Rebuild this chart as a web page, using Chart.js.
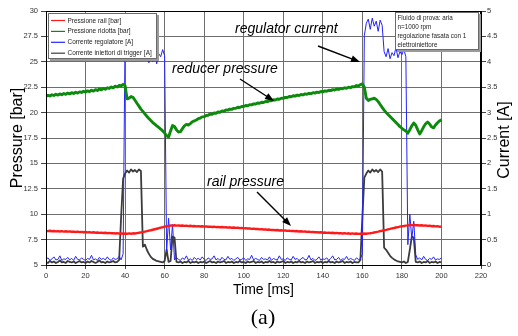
<!DOCTYPE html>
<html>
<head>
<meta charset="utf-8">
<script src="https://cdn.jsdelivr.net/npm/chart.js@4.4.0/dist/chart.umd.min.js"></script>
<style>
  html, body { margin: 0; padding: 0; background: #fff; }
  #wrap { width: 518px; height: 336px; }
</style>
</head>
<body>
<div id="wrap"><canvas id="grafico" width="518" height="336"></canvas></div>
<script>
// tempo [ms], campionato ogni 1 ms
var tempoMs = [
    0, 1, 2, 3, 4, 5, 6, 7, 8, 9, 10, 11, 12, 13, 14, 15, 16, 17, 18, 19,
    20, 21, 22, 23, 24, 25, 26, 27, 28, 29, 30, 31, 32, 33, 34, 35, 36, 37, 38, 39,
    40, 41, 42, 43, 44, 45, 46, 47, 48, 49, 50, 51, 52, 53, 54, 55, 56, 57, 58, 59,
    60, 61, 62, 63, 64, 65, 66, 67, 68, 69, 70, 71, 72, 73, 74, 75, 76, 77, 78, 79,
    80, 81, 82, 83, 84, 85, 86, 87, 88, 89, 90, 91, 92, 93, 94, 95, 96, 97, 98, 99,
    100, 101, 102, 103, 104, 105, 106, 107, 108, 109, 110, 111, 112, 113, 114, 115, 116, 117, 118, 119,
    120, 121, 122, 123, 124, 125, 126, 127, 128, 129, 130, 131, 132, 133, 134, 135, 136, 137, 138, 139,
    140, 141, 142, 143, 144, 145, 146, 147, 148, 149, 150, 151, 152, 153, 154, 155, 156, 157, 158, 159,
    160, 161, 162, 163, 164, 165, 166, 167, 168, 169, 170, 171, 172, 173, 174, 175, 176, 177, 178, 179,
    180, 181, 182, 183, 184, 185, 186, 187, 188, 189, 190, 191, 192, 193, 194, 195, 196, 197, 198, 199, 200
];

// Pressione rail [bar]
var pressioneRail = [
    8.36, 8.33, 8.37, 8.32, 8.35, 8.31, 8.34, 8.30, 8.33, 8.29, 8.32, 8.28, 8.31, 8.27, 8.29, 8.25, 8.28, 8.24, 8.26, 8.22,
    8.25, 8.21, 8.23, 8.19, 8.22, 8.18, 8.20, 8.16, 8.19, 8.15, 8.17, 8.13, 8.16, 8.12, 8.14, 8.10, 8.13, 8.09, 8.12, 8.08,
    8.10, 8.07, 8.11, 8.08, 8.12, 8.10, 8.14, 8.17, 8.21, 8.24, 8.29, 8.33, 8.38, 8.42, 8.47, 8.52, 8.57, 8.62, 8.68, 8.72,
    8.77, 8.82, 8.85, 8.89, 8.87, 8.91, 8.88, 8.90, 8.86, 8.89, 8.85, 8.87, 8.83, 8.86, 8.82, 8.84, 8.80, 8.83, 8.79, 8.81,
    8.77, 8.80, 8.76, 8.78, 8.74, 8.77, 8.73, 8.75, 8.71, 8.74, 8.70, 8.72, 8.68, 8.71, 8.67, 8.69, 8.65, 8.67, 8.63, 8.65,
    8.61, 8.63, 8.59, 8.61, 8.56, 8.58, 8.54, 8.56, 8.51, 8.53, 8.49, 8.51, 8.47, 8.49, 8.44, 8.46, 8.42, 8.44, 8.40, 8.42,
    8.38, 8.40, 8.36, 8.38, 8.34, 8.36, 8.32, 8.34, 8.30, 8.32, 8.28, 8.30, 8.26, 8.28, 8.24, 8.26, 8.22, 8.24, 8.20, 8.22,
    8.18, 8.20, 8.16, 8.19, 8.15, 8.17, 8.13, 8.16, 8.12, 8.14, 8.10, 8.13, 8.09, 8.12, 8.08, 8.11, 8.07, 8.10, 8.06, 8.09,
    8.07, 8.10, 8.08, 8.11, 8.13, 8.16, 8.20, 8.24, 8.28, 8.33, 8.37, 8.42, 8.46, 8.51, 8.55, 8.60, 8.64, 8.69, 8.73, 8.77,
    8.81, 8.84, 8.88, 8.90, 8.93, 8.92, 8.95, 8.91, 8.93, 8.89, 8.91, 8.87, 8.89, 8.85, 8.86, 8.82, 8.84, 8.80, 8.81, 8.77, 8.78
];

// Pressione ridotta [bar]
var pressioneRidotta = [
    21.62, 21.70, 21.64, 21.76, 21.68, 21.80, 21.72, 21.84, 21.76, 21.88, 21.80, 21.92, 21.84, 21.96, 21.88, 22.00, 21.92, 22.04, 21.98, 22.10,
    22.02, 22.14, 22.06, 22.20, 22.12, 22.26, 22.18, 22.32, 22.24, 22.38, 22.30, 22.44, 22.38, 22.52, 22.44, 22.60, 22.52, 22.68, 22.62, 22.78,
    22.65, 21.35, 21.42, 21.58, 21.50, 21.22, 20.92, 20.64, 20.34, 20.12, 19.88, 19.64, 19.42, 19.22, 19.02, 18.86, 18.70, 18.54, 18.38, 18.20,
    17.98, 17.72, 17.60, 18.20, 18.72, 18.62, 18.30, 18.08, 18.12, 18.42, 18.70, 18.84, 18.78, 18.92, 19.10, 19.18, 19.28, 19.40, 19.46, 19.58,
    19.60, 19.72, 19.74, 19.86, 19.84, 19.96, 19.94, 20.06, 20.04, 20.16, 20.14, 20.26, 20.24, 20.34, 20.32, 20.42, 20.42, 20.52, 20.50, 20.60,
    20.60, 20.70, 20.68, 20.78, 20.76, 20.86, 20.84, 20.94, 20.92, 21.02, 21.00, 21.10, 21.08, 21.18, 21.16, 21.26, 21.24, 21.34, 21.32, 21.42,
    21.40, 21.50, 21.48, 21.58, 21.56, 21.66, 21.62, 21.72, 21.68, 21.78, 21.74, 21.84, 21.80, 21.90, 21.86, 21.96, 21.92, 22.02, 21.98, 22.08,
    22.04, 22.14, 22.10, 22.20, 22.16, 22.26, 22.22, 22.32, 22.28, 22.38, 22.34, 22.44, 22.40, 22.50, 22.46, 22.56, 22.54, 22.66, 22.62, 22.76,
    22.82, 22.50, 21.42, 21.20, 21.30, 21.36, 21.42, 21.30, 21.08, 20.80, 20.52, 20.24, 20.02, 19.82, 19.62, 19.42, 19.22, 19.02, 18.82, 18.62,
    18.46, 18.30, 18.18, 17.98, 18.32, 18.70, 18.98, 18.76, 18.30, 17.90, 18.22, 18.60, 18.90, 19.08, 18.88, 18.60, 18.50, 18.78, 19.00, 19.18, 19.30
];

// Corrente regolatore [A]
var correnteRegolatore = [
    0.11, 0.14, 0.09, 0.12, 0.16, 0.10, 0.11, 0.18, 0.09, 0.12, 0.11, 0.15, 0.10, 0.13, 0.09, 0.17, 0.11, 0.10, 0.14, 0.11,
    0.09, 0.13, 0.11, 0.19, 0.10, 0.12, 0.09, 0.15, 0.11, 0.13, 0.10, 0.16, 0.11, 0.09, 0.14, 0.11, 0.12, 0.17, 0.10, 0.22,
    4.55, 4.78, 4.66, 4.84, 4.70, 4.80, 4.62, 4.76, 4.70, 4.08, 4.02, 4.14, 3.98, 4.06, 4.00, 4.12, 3.96, 4.16, 4.10, 4.24,
    4.12, 0.26, 0.92, 0.30, 0.80, 0.10, 0.15, 0.11, 0.09, 0.14, 0.11, 0.18, 0.10, 0.12, 0.09, 0.15, 0.11, 0.13, 0.10, 0.16,
    0.11, 0.09, 0.14, 0.11, 0.12, 0.18, 0.10, 0.13, 0.09, 0.15, 0.11, 0.10, 0.17, 0.11, 0.13, 0.09, 0.12, 0.15, 0.10, 0.11,
    0.14, 0.09, 0.12, 0.11, 0.19, 0.10, 0.13, 0.11, 0.09, 0.15, 0.11, 0.12, 0.10, 0.16, 0.09, 0.13, 0.11, 0.10, 0.18, 0.11,
    0.12, 0.09, 0.14, 0.11, 0.10, 0.17, 0.11, 0.13, 0.09, 0.12, 0.15, 0.10, 0.11, 0.19, 0.10, 0.13, 0.09, 0.11, 0.16, 0.10,
    0.12, 0.11, 0.14, 0.09, 0.13, 0.18, 0.10, 0.11, 0.15, 0.09, 0.12, 0.11, 0.17, 0.10, 0.13, 0.11, 0.09, 0.14, 0.11, 0.12,
    0.22, 4.52, 4.76, 4.84, 4.64, 4.86, 4.70, 4.80, 4.60, 4.82, 4.72, 4.20, 4.10, 4.26, 4.06, 4.18, 4.12, 4.28, 4.08, 4.20,
    4.14, 4.24, 4.10, 0.40, 1.00, 0.52, 0.86, 0.20, 0.11, 0.14, 0.10, 0.17, 0.11, 0.09, 0.13, 0.11, 0.16, 0.10, 0.12, 0.11, 0.14
];

// Corrente iniettori di trigger [A]
var correnteTrigger = [
    0.06, 0.04, 0.08, 0.05, 0.07, 0.04, 0.06, 0.09, 0.05, 0.06, 0.04, 0.08, 0.06, 0.05, 0.07, 0.04, 0.06, 0.08, 0.05, 0.06,
    0.04, 0.07, 0.05, 0.08, 0.06, 0.04, 0.06, 0.09, 0.05, 0.06, 0.04, 0.07, 0.05, 0.06, 0.08, 0.05, 0.06, 0.10, 0.95, 1.70,
    1.80, 1.86, 1.82, 1.88, 1.84, 1.87, 1.83, 1.88, 1.85, 0.36, 0.40, 0.30, 0.22, 0.16, 0.12, 0.10, 0.08, 0.07, 0.06, 0.05,
    0.08, 0.30, 0.06, 0.08, 0.56, 0.54, 0.06, 0.05, 0.07, 0.04, 0.06, 0.05, 0.08, 0.04, 0.06, 0.05, 0.07, 0.04, 0.06, 0.05,
    0.07, 0.04, 0.06, 0.08, 0.05, 0.06, 0.04, 0.07, 0.05, 0.06, 0.08, 0.04, 0.06, 0.05, 0.07, 0.04, 0.06, 0.05, 0.08, 0.05,
    0.06, 0.04, 0.07, 0.05, 0.06, 0.08, 0.04, 0.06, 0.05, 0.07, 0.04, 0.06, 0.05, 0.08, 0.05, 0.06, 0.04, 0.07, 0.05, 0.06,
    0.08, 0.04, 0.06, 0.05, 0.07, 0.04, 0.06, 0.05, 0.08, 0.05, 0.06, 0.04, 0.07, 0.05, 0.06, 0.08, 0.04, 0.06, 0.05, 0.07,
    0.04, 0.06, 0.05, 0.08, 0.05, 0.06, 0.04, 0.07, 0.05, 0.06, 0.08, 0.04, 0.06, 0.05, 0.07, 0.04, 0.06, 0.05, 0.05, 0.10,
    0.95, 1.72, 1.80, 1.86, 1.82, 1.88, 1.84, 1.87, 1.83, 1.88, 1.84, 0.34, 0.30, 0.24, 0.18, 0.14, 0.11, 0.09, 0.07, 0.06,
    0.05, 0.07, 0.04, 0.06, 0.30, 0.56, 0.54, 0.06, 0.05, 0.07, 0.04, 0.06, 0.05, 0.08, 0.04, 0.06, 0.05, 0.07, 0.04, 0.06, 0.05
];

var etichetteSerie = ['Pressione rail [bar]', 'Pressione ridotta [bar]', 'Corrente regolatore [A]', 'Corrente iniettori di trigger [A]'];
var coloriSerie = ['#ff1a1a', '#0b8a0b', '#2323ff', '#3c3c3c'];
var noteProva = ['Fluido di prova: aria', 'n=1000 rpm', 'regolazione fasata con 1', 'elettroiniettore'];

var fontSans = "'Liberation Sans', Arial, sans-serif";

// scrive testo stretto (come font "narrow")
function testoStretto(ctx, testo, x, y, k) {
    var w = ctx.measureText(testo).width;
    ctx.fillText(testo, x, y, w * k);
}

function freccia(ctx, x1, y1, x2, y2) {
    var ang = Math.atan2(y2 - y1, x2 - x1);
    ctx.beginPath();
    ctx.moveTo(x1, y1);
    ctx.lineTo(x2 - 6 * Math.cos(ang), y2 - 6 * Math.sin(ang));
    ctx.stroke();
    ctx.beginPath();
    ctx.moveTo(x2, y2);
    ctx.lineTo(x2 - 9 * Math.cos(ang) + 3.5 * Math.sin(ang), y2 - 9 * Math.sin(ang) - 3.5 * Math.cos(ang));
    ctx.lineTo(x2 - 9 * Math.cos(ang) - 3.5 * Math.sin(ang), y2 - 9 * Math.sin(ang) + 3.5 * Math.cos(ang));
    ctx.closePath();
    ctx.fill();
}

function box(ctx, x, y, w, h) {
    ctx.fillStyle = '#9a9a9a';
    ctx.fillRect(x + 2, y + 2, w, h);
    ctx.fillStyle = '#fff';
    ctx.fillRect(x, y, w, h);
    ctx.strokeStyle = '#6a6a6a';
    ctx.lineWidth = 1;
    ctx.strokeRect(x + 0.5, y + 0.5, w - 1, h - 1);
}

var decorazioni = {
    id: 'decorazioni',
    afterDraw: function(chart) {
        var ctx = chart.ctx;
        var area = chart.chartArea;
        ctx.save();

        // cornice area grafico
        ctx.strokeStyle = '#000';
        ctx.lineWidth = 1;
        ctx.strokeRect(Math.round(area.left) + 0.5, Math.round(area.top) + 0.5,
            Math.round(area.right - area.left) - 1, Math.round(area.bottom - area.top));

        // legenda
        box(ctx, 48, 13, 109, 46);
        ctx.font = '7.5px ' + fontSans;
        ctx.textBaseline = 'middle';
        ctx.textAlign = 'left';
        chart.data.datasets.forEach(function(ds, i) {
            var yy = 20.5 + i * 10.9;
            ctx.strokeStyle = ds.borderColor;
            ctx.lineWidth = 1.2;
            ctx.beginPath();
            ctx.moveTo(51, yy);
            ctx.lineTo(65, yy);
            ctx.stroke();
            ctx.fillStyle = '#222';
            testoStretto(ctx, ds.label, 67.5, yy, 0.86);
        });

        // note prova
        box(ctx, 395, 12, 84, 38);
        ctx.font = '7px ' + fontSans;
        ctx.fillStyle = '#222';
        noteProva.forEach(function(riga, i) {
            testoStretto(ctx, riga, 397.5, 18 + i * 9, 0.9);
        });

        // annotazioni
        ctx.fillStyle = '#000';
        ctx.strokeStyle = '#000';
        ctx.lineWidth = 1.4;
        ctx.font = 'italic 14px ' + fontSans;
        ctx.textBaseline = 'alphabetic';
        ctx.fillText('regulator current', 235, 33);
        ctx.fillText('reducer pressure', 172, 73);
        ctx.fillText('rail pressure', 207, 186);
        freccia(ctx, 318, 46, 360, 62);
        freccia(ctx, 240, 79, 274, 101);
        freccia(ctx, 257, 192, 291, 226);

        // titolo asse destro
        ctx.save();
        ctx.translate(505, 140);
        ctx.rotate(-Math.PI / 2);
        ctx.font = '16px ' + fontSans;
        ctx.textAlign = 'center';
        ctx.textBaseline = 'middle';
        ctx.fillStyle = '#000';
        ctx.fillText('Current [A]', 0, 0);
        ctx.restore();

        // didascalia
        ctx.font = '22px "Liberation Serif", "Times New Roman", serif';
        ctx.textAlign = 'center';
        ctx.textBaseline = 'middle';
        ctx.fillStyle = '#000';
        ctx.fillText('(a)', 263, 318);

        ctx.restore();
    }
};

var griglia = { color: '#6e6e6e', lineWidth: 1, tickLength: 5, tickColor: '#444' };
var fontTick = { family: fontSans, size: 7.5 };

var canvas = document.getElementById('grafico').getContext('2d');
window.grafico = new Chart(canvas, {
    type: 'line',
    data: {
        labels: tempoMs,
        datasets: [{
                label: etichetteSerie[0],
                data: pressioneRail,
                yAxisID: 'y',
                borderColor: coloriSerie[0],
                borderWidth: 2.4
            }, {
                label: etichetteSerie[1],
                data: pressioneRidotta,
                yAxisID: 'y',
                borderColor: coloriSerie[1],
                borderWidth: 2.9
            }, {
                label: etichetteSerie[2],
                data: correnteRegolatore,
                yAxisID: 'y1',
                borderColor: coloriSerie[2],
                borderWidth: 1
            }, {
                label: etichetteSerie[3],
                data: correnteTrigger,
                yAxisID: 'y1',
                borderColor: coloriSerie[3],
                borderWidth: 1.8
            }]
    },
    options: {
        responsive: false,
        animation: false,
        layout: { padding: { top: 11, left: 0, right: 0, bottom: 0 } },
        elements: {
            point: { radius: 0 },
            line: { tension: 0, borderJoinStyle: 'round' }
        },
        plugins: {
            legend: { display: false },
            tooltip: { enabled: false }
        },
        scales: {
            x: {
                type: 'linear',
                min: 0,
                max: 220,
                ticks: { stepSize: 20, font: fontTick, color: '#333', padding: 2, maxRotation: 0 },
                grid: { color: '#6e6e6e', lineWidth: 1, tickLength: 4, tickColor: '#444' },
                border: { color: '#000' },
                title: {
                    display: true,
                    text: 'Time [ms]',
                    font: { family: fontSans, size: 14 },
                    color: '#000',
                    padding: { top: 0, bottom: 37 }
                },
                afterFit: function(scale) { scale.height = 71; }
            },
            y: {
                position: 'left',
                min: 5,
                max: 30,
                ticks: { stepSize: 2.5, font: fontTick, color: '#333', padding: 3 },
                grid: griglia,
                border: { color: '#000' },
                title: {
                    display: true,
                    text: 'Pressure [bar]',
                    font: { family: fontSans, size: 16 },
                    color: '#000',
                    padding: { top: 8, bottom: 0 }
                },
                afterFit: function(scale) { scale.width = 46; }
            },
            y1: {
                position: 'right',
                min: 0,
                max: 5,
                ticks: {
                    stepSize: 0.5, font: fontTick, color: '#333', padding: 1,
                    callback: function(v) { return String(Math.round(v * 10) / 10); }
                },
                grid: { drawOnChartArea: false, tickLength: 5, tickColor: '#444' },
                border: { color: '#000' },
                afterFit: function(scale) { scale.width = 37; }
            }
        }
    },
    plugins: [decorazioni]
});
</script>
</body>
</html>
